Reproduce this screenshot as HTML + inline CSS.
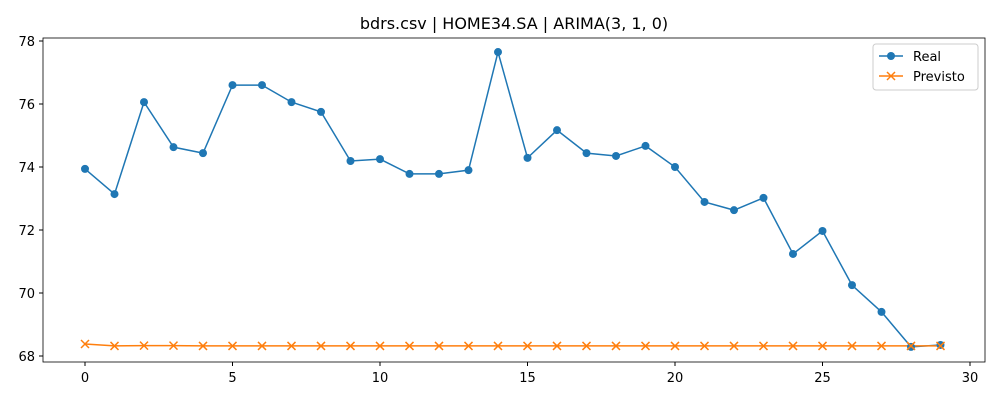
<!DOCTYPE html>
<html><head><meta charset="utf-8"><style>
body{margin:0;background:#fff;font-family:"Liberation Sans","DejaVu Sans",sans-serif}
svg text{font-family:"DejaVu Sans","Liberation Sans",sans-serif}
</style></head><body>
<svg id="chart" width="1000" height="400" xmlns="http://www.w3.org/2000/svg">
<rect width="1000" height="400" fill="#fff"/>
<text x="514" y="29" text-anchor="middle" font-size="16">bdrs.csv | HOME34.SA | ARIMA(3, 1, 0)</text>
<g id="axes"></g>
<g id="series"></g>
<rect x="43" y="38" width="942" height="324" fill="none" stroke="#000" stroke-width="0.8"/>
<g>
<rect x="873" y="44" width="105" height="46" rx="3" fill="#fff" stroke="#ccc"/>
<g>
<line x1="879" y1="56" x2="903" y2="56" stroke="#1f77b4" stroke-width="1.5"/>
<circle cx="891" cy="56" r="4" fill="#1f77b4"/>
<text x="913" y="61" font-size="13">Real</text></g>
<g>
<line x1="879" y1="76" x2="903" y2="76" stroke="#ff7f0e" stroke-width="1.5"/>
<path d="M887,72 l8,8 M895,72 l-8,8" stroke="#ff7f0e" stroke-width="1.5"/>
<text x="913" y="81" font-size="13">Previsto</text></g>
</g>
</svg>
<script>
const realValues=[73.94,73.14,76.06,74.63,74.44,76.6,76.6,76.06,75.75,74.19,74.25,73.78,73.78,73.9,77.65,74.29,75.17,74.44,74.35,74.67,74.0,72.89,72.63,73.02,71.24,71.97,70.25,69.4,68.29,68.35];
const forecastValues=[68.38,68.32,68.33,68.33,68.32,68.32,68.32,68.32,68.32,68.32,68.32,68.32,68.32,68.32,68.32,68.32,68.32,68.32,68.32,68.32,68.32,68.32,68.32,68.32,68.32,68.32,68.32,68.32,68.32,68.32];
const xTicks=[0,5,10,15,20,25,30];
const yTicks=[68,70,72,74,76,78];
const NS="http://www.w3.org/2000/svg";
function xs(v){return 85+v*29.5;}
function ys(v){return 356-(v-68)*31.5;}
const axes=document.getElementById('axes'),ser=document.getElementById('series');
function mk(t,a,p){const e=document.createElementNS(NS,t);for(const k in a)e.setAttribute(k,a[k]);p.appendChild(e);return e;}
xTicks.forEach(t=>{const x=xs(t);
const l=mk('line',{x1:x,x2:x,y1:362,y2:366,stroke:'#000'},axes);


const tx=mk('text',{x:x,y:382,'text-anchor':'middle','font-size':13},axes);tx.textContent=t;

});
yTicks.forEach(t=>{const y=ys(t);
const l=mk('line',{x1:39,x2:43,y1:y,y2:y,stroke:'#000'},axes);


const tx=mk('text',{x:35,y:y+5,'text-anchor':'end','font-size':13},axes);tx.textContent=t;

});
function line(vals,color,name){
const p=mk('polyline',{points:vals.map((v,i)=>xs(i)+','+ys(v)).join(' '),fill:'none',stroke:color,'stroke-width':1.5},ser);

}
line(realValues,'#1f77b4','real-line');
line(forecastValues,'#ff7f0e','forecast-line');
realValues.forEach((v,i)=>{const c=mk('circle',{cx:xs(i),cy:ys(v),r:4,fill:'#1f77b4'},ser);

});
forecastValues.forEach((v,i)=>{const x=xs(i),y=ys(v);
const c=mk('path',{d:`M${x-4},${y-4} L${x+4},${y+4} M${x+4},${y-4} L${x-4},${y+4}`,stroke:'#ff7f0e','stroke-width':1.5},ser);

});
</script>
</body></html>
